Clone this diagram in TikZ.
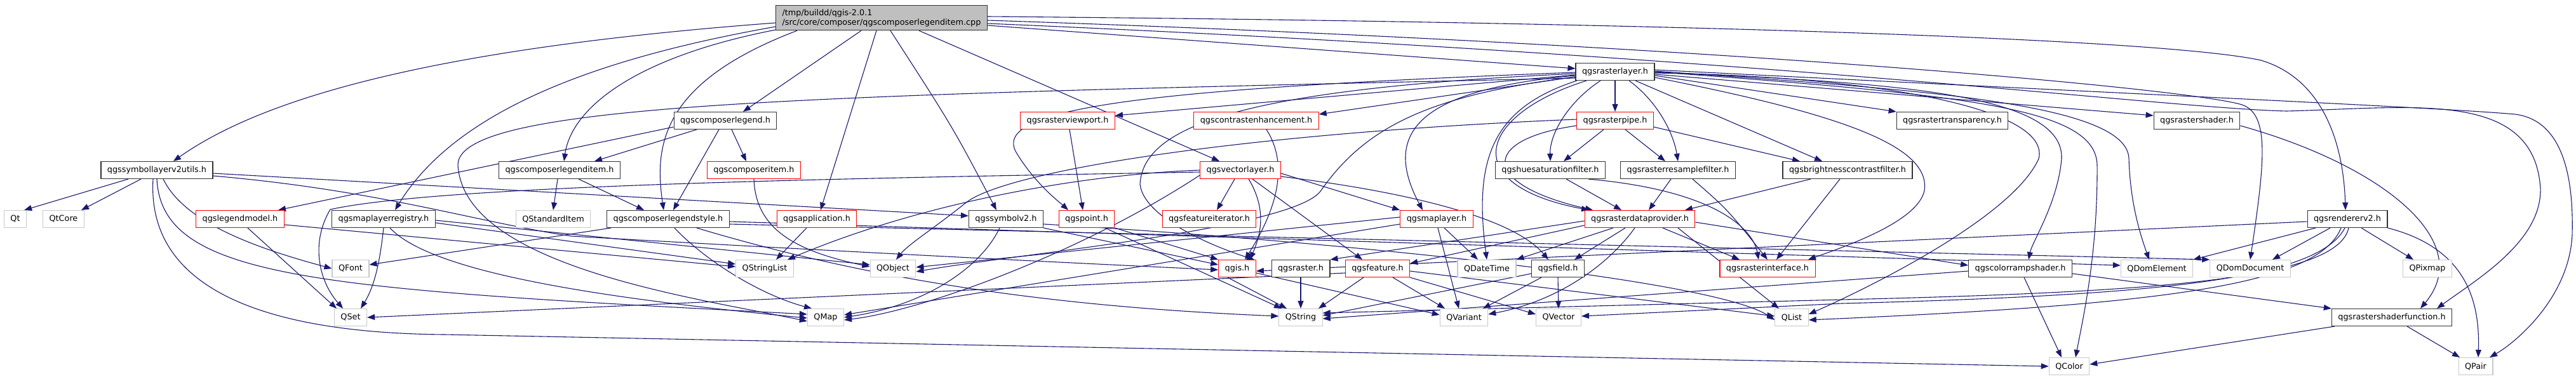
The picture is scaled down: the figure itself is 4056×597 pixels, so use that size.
\documentclass[tikz,border=0pt]{standalone}
\usepackage{fontspec}
\setmainfont{DejaVu Sans}
\usetikzlibrary{arrows.meta,backgrounds}
\definecolor{depblue}{HTML}{191970}
\definecolor{rootgray}{HTML}{BFBFBF}
\definecolor{extgray}{HTML}{C8C8C8}
\begin{document}
\begin{tikzpicture}[x=1pt,y=-1pt,
hdr/.style={draw=black!80,fill=white,line width=1.1pt,font=\fontsize{12.8}{15}\selectfont,inner xsep=10pt,inner ysep=0pt,minimum height=27pt},
trunc/.style={hdr,draw=red},
ext/.style={hdr,draw=extgray},
rootbox/.style={hdr,fill=rootgray,align=left,inner ysep=6pt},
dep/.style={-{Triangle[length=12pt,width=9pt]},line width=1.1pt,draw=depblue}]
\useasboundingbox (0,0) rectangle (4056,597);
\node[rootbox](root) at (1388,28){/tmp/buildd/qgis-2.0.1\\/src/core/composer/qgscomposerlegenditem.cpp};
\node[hdr](rl) at (2543,113){qgsrasterlayer.h};
\node[hdr](cl) at (1142,190){qgscomposerlegend.h};
\node[trunc](rvp) at (1681,190){qgsrasterviewport.h};
\node[trunc](ce) at (1978,190){qgscontrastenhancement.h};
\node[trunc](rp) at (2543,190){qgsrasterpipe.h};
\node[hdr](rt) at (3074,190){qgsrastertransparency.h};
\node[hdr](rs) at (3459,190){qgsrastershader.h};
\node[hdr](sl2u) at (247,268){qgssymbollayerv2utils.h};
\node[hdr](cli) at (881,268){qgscomposerlegenditem.h};
\node[trunc](ci) at (1187,268){qgscomposeritem.h};
\node[trunc](vl) at (1953,268){qgsvectorlayer.h};
\node[hdr](hsf) at (2441,268){qgshuesaturationfilter.h};
\node[hdr](rrf) at (2642,268){qgsrasterresamplefilter.h};
\node[hdr](bcf) at (2909,268){qgsbrightnesscontrastfilter.h};
\node[ext](qt) at (24,345){Qt};
\node[ext](qtcore) at (100,345){QtCore};
\node[trunc](lm) at (378,345){qgslegendmodel.h};
\node[hdr](mlr) at (604,345){qgsmaplayerregistry.h};
\node[ext](si) at (871,345){QStandardItem};
\node[hdr](cls) at (1052,345){qgscomposerlegendstyle.h};
\node[trunc](app) at (1286,345){qgsapplication.h};
\node[hdr](sv2) at (1584,345){qgssymbolv2.h};
\node[trunc](pt) at (1711,345){qgspoint.h};
\node[trunc](fi) at (1904,345){qgsfeatureiterator.h};
\node[trunc](ml) at (2262,345){qgsmaplayer.h};
\node[trunc](rdp) at (2582,345){qgsrasterdataprovider.h};
\node[hdr](rv2) at (3696,345){qgsrendererv2.h};
\node[ext](qfont) at (552,423){QFont};
\node[ext](qsl) at (1204,423){QStringList};
\node[ext](qobj) at (1406,423){QObject};
\node[trunc](qgis) at (1948,423){qgis.h};
\node[hdr](rast) at (2048,423){qgsraster.h};
\node[trunc](feat) at (2169,423){qgsfeature.h};
\node[ext](qdt) at (2341,423){QDateTime};
\node[hdr](field) at (2453,423){qgsfield.h};
\node[trunc](ri) at (2783,423){qgsrasterinterface.h};
\node[hdr](crs) at (3181,423){qgscolorrampshader.h};
\node[ext](qde) at (3396,423){QDomElement};
\node[ext](qdd) at (3543,423){QDomDocument};
\node[ext](qpix) at (3822,423){QPixmap};
\node[ext](qset) at (552,500){QSet};
\node[ext](qmap) at (1300,500){QMap};
\node[ext](qstr) at (2048,500){QString};
\node[ext](qvar) at (2305,500){QVariant};
\node[ext](qvec) at (2454,500){QVector};
\node[ext](qlist) at (2821,500){QList};
\node[hdr](rsf) at (3766,500){qgsrastershaderfunction.h};
\node[ext](qcol) at (3258,577){QColor};
\node[ext](qpair) at (3898,577){QPair};
\begin{scope}[on background layer]
\draw[dep]([yshift=-8pt]root.west) .. controls (700,75) and (420,150) .. ([xshift=26pt]sl2u.north);
\draw[dep]([yshift=-19pt]root.west) .. controls (1000,90) and (900,170) .. ([xshift=7pt]cli.north);
\draw[dep]([yshift=-14pt]root.west) .. controls (950,90) and (720,170) .. ([xshift=18pt]mlr.north);
\draw[dep]([xshift=-133pt]root.south) .. controls (1040,130) and (1030,230) .. ([xshift=-7pt]cls.north);
\draw[dep]([xshift=-32pt]root.south)--([xshift=28pt]cl.north);
\draw[dep]([xshift=-8pt]root.south)--([xshift=6pt]app.north);
\draw[dep]([xshift=14pt]root.south) .. controls (1500,200) .. ([xshift=-15pt]sv2.north);
\draw[dep]([xshift=59pt]root.south)--([xshift=-33pt]vl.north);
\draw[dep]([yshift=-12pt]root.east)--([yshift=5pt]rl.west);
\draw[dep]([yshift=2pt]root.east) .. controls (2600,35) and (3400,60) .. (3560,95) .. controls (3660,125) and (3690,230) .. ([xshift=-3pt]rv2.north);
\draw[dep]([yshift=-4pt]root.east) .. controls (2700,70) and (3450,140) .. (3530,165) .. controls (3575,180) and (3565,260) .. (qdd.north);
\draw[dep]([yshift=-9pt]root.east) .. controls (2800,90) and (3400,170) .. (3600,175) .. controls (3800,170) and (3990,140) .. (4000,297) .. controls (4002,380) and (3900,440) .. ([xshift=71pt]rsf.north);
\draw[dep]([xshift=-45pt]sl2u.south)--([xshift=-4pt]qt.north east);
\draw[dep]([xshift=-25pt]sl2u.south)--([xshift=28pt]qtcore.north);
\draw[dep]([xshift=10pt]sl2u.south) .. controls (290,350) and (400,390) .. (qfont.west);
\draw[dep](sl2u.south) .. controls (255,440) and (500,455) .. ([yshift=5pt]qmap.west);
\draw[dep]([xshift=-6pt]sl2u.south) .. controls (230,470) and (450,525) .. (700,527)--(qcol.west);
\draw[dep]([yshift=-5pt]sl2u.east)--([yshift=5pt]sv2.west);
\draw[dep]([yshift=-9pt]sl2u.east) .. controls (600,300) and (750,350) .. (900,372) .. controls (1300,395) and (1700,415) .. ([yshift=-2pt]qgis.west);
\draw[dep]([yshift=-10pt]cl.west)--([xshift=60pt]lm.north);
\draw[dep]([xshift=-45pt]cl.south)--([xshift=55pt]cli.north);
\draw[dep]([xshift=-10pt]cl.south)--([xshift=8pt]cls.north);
\draw[dep]([xshift=10pt]cl.south)--([xshift=-12pt]ci.north);
\draw[dep]([xshift=-3pt]cli.south)--(si.north);
\draw[dep]([xshift=30pt]cli.south)--([xshift=-38pt]cls.north);
\draw[dep](ci.south) .. controls (1190,360) and (1250,395) .. ([yshift=3pt]qobj.west);
\draw[dep]([xshift=12pt]lm.south)--([xshift=-22pt]qset.north);
\draw[dep]([yshift=-9pt]lm.east)--([yshift=3pt]qsl.west);
\draw[dep](mlr.south) .. controls (598,413) and (590,450) .. ([xshift=16pt]qset.north);
\draw[dep]([xshift=10pt]mlr.south) .. controls (680,430) and (950,470) .. ([yshift=-1pt]qmap.west);
\draw[dep]([yshift=-6pt]mlr.east)--([yshift=7pt]qsl.west);
\draw[dep]([yshift=-2pt]mlr.east)--([yshift=6pt]qobj.west);
\draw[dep]([xshift=-90pt]cls.south)--([yshift=6pt]qfont.east);
\draw[dep]([xshift=10pt]cls.south) .. controls (1110,410) and (1196,464) .. ([xshift=-22pt]qmap.north);
\draw[dep]([xshift=45pt]cls.south) .. controls (1400,450) and (1700,485) .. ([yshift=2pt]qstr.west);
\draw[dep]([yshift=-4pt]cls.east)--([yshift=5pt]qde.west);
\draw[dep]([yshift=-8pt]cls.east)--(qdd.north west);
\draw[dep]([xshift=-16pt]app.south)--([xshift=18pt]qsl.north);
\draw[dep](sv2.south east)--([yshift=6pt]qgis.west);
\draw[dep]([xshift=-10pt]sv2.south) .. controls (1545,420) and (1460,480) .. (qmap.east);
\draw[dep]([yshift=-8pt]sv2.east) .. controls (2100,380) and (2700,440) .. ([yshift=-4pt]qlist.west);
\draw[dep](pt.south east)--(qgis.north west);
\draw[dep]([xshift=29pt]pt.south)--([xshift=-30pt]qstr.north);
\draw[dep]([xshift=-9pt]vl.south)--([xshift=12pt]fi.north);
\draw[dep]([xshift=13pt]vl.south) .. controls (1995,330) and (1985,370) .. ([xshift=20pt]qgis.north);
\draw[dep]([xshift=19pt]vl.south)--([xshift=-24pt]feat.north);
\draw[dep]([yshift=-5pt]vl.east)--(ml.north west);
\draw[dep]([yshift=-10pt]vl.east) .. controls (2200,300) and (2380,340) .. ([xshift=-15pt]field.north);
\draw[dep](vl.west) .. controls (1700,275) and (1450,320) .. ([xshift=36pt]qsl.north);
\draw[dep]([yshift=-3pt]vl.west) .. controls (1400,280) and (700,290) .. (520,330) .. controls (490,380) and (500,440) .. ([xshift=-12pt]qset.north);
\draw[dep]([yshift=-8pt]vl.west) .. controls (1700,400) and (1450,490) .. ([yshift=-4pt]qmap.east);
\draw[dep]([yshift=-5pt]rl.west)--([yshift=8pt]rvp.east);
\draw[dep]([yshift=-8pt]rl.west)--([yshift=10pt]ce.east);
\draw[dep](rl.south)--(rp.north);
\draw[dep]([yshift=-6pt]rl.east)--(rt.north west);
\draw[dep]([yshift=-4pt]rl.east)--([yshift=8pt]rs.west);
\draw[dep]([xshift=-23pt]rl.south) .. controls (2470,160) and (2440,210) .. (hsf.north);
\draw[dep]([xshift=22pt]rl.south) .. controls (2610,160) and (2635,210) .. (rrf.north);
\draw[dep]([xshift=32pt]rl.south)--([xshift=-40pt]bcf.north);
\draw[dep]([yshift=-6pt]rl.west) .. controls (2250,140) and (2170,200) .. ([xshift=-22pt]ml.north);
\draw[dep]([xshift=-60pt]rl.south) .. controls (2350,170) and (2320,250) .. (qdt.north);
\draw[dep]([xshift=-45pt]rl.south) .. controls (2330,180) and (2290,290) .. ([xshift=-80pt]rdp.north);
\draw[dep]([yshift=-3pt]rl.west) .. controls (1950,140) and (1800,200) .. (1795,290) .. controls (1800,340) and (1900,385) .. ([xshift=27pt]qgis.north);
\draw[dep]([yshift=-1pt]rl.west) .. controls (1800,140) and (1560,170) .. (1600,240) .. controls (1630,290) and (1670,320) .. ([xshift=-29pt]pt.north);
\draw[dep]([yshift=-10pt]rl.west) .. controls (1300,150) and (720,160) .. (721,260) .. controls (730,420) and (1100,470) .. ([yshift=-6pt]qmap.west);
\draw[dep]([yshift=-8pt]rl.west) .. controls (2250,150) and (2150,200) .. (2080,300) .. controls (2040,360) and (1600,400) .. ([yshift=-5pt]qobj.east);
\draw[dep]([yshift=-2pt]rl.east) .. controls (2950,120) and (3230,170) .. (3210,250) .. controls (3170,340) and (2950,450) .. ([yshift=5pt]qlist.east);
\draw[dep]([yshift=-1pt]rl.east) .. controls (3000,130) and (3250,150) .. (3246,250) .. controls (3240,320) and (3200,380) .. ([xshift=13pt]crs.north);
\draw[dep](rl.east) .. controls (3100,150) and (3300,170) .. (3302,260) .. controls (3303,400) and (3280,500) .. ([xshift=10pt]qcol.north);
\draw[dep]([yshift=1pt]rl.east) .. controls (3000,140) and (3350,160) .. (3352,250) .. controls (3354,320) and (3370,370) .. ([xshift=-12pt]qde.north);
\draw[dep]([yshift=-9pt]rl.east) .. controls (2900,180) and (3040,230) .. (3030,300) .. controls (3020,350) and (2900,390) .. ([xshift=64pt]ri.north);
\draw[dep]([yshift=3pt]rl.east) .. controls (3400,150) and (3850,170) .. (3960,180) .. controls (4040,190) and (4052,290) .. (4050,370) .. controls (4045,470) and (3960,540) .. ([xshift=22pt]qpair.north);
\draw[dep]([xshift=3pt]rvp.south)--([xshift=-6pt]pt.north);
\draw[dep]([xshift=16pt]ce.south) .. controls (2030,260) and (2010,330) .. ([xshift=12pt]qgis.north);
\draw[dep]([xshift=-18pt]rp.south)--([xshift=21pt]hsf.north);
\draw[dep]([xshift=16pt]rp.south)--([xshift=-20pt]rrf.north);
\draw[dep]([yshift=-10pt]rp.east)--([xshift=-75pt]bcf.north);
\draw[dep]([yshift=-8pt]rp.west) .. controls (2330,220) and (2330,290) .. ([xshift=-74pt]rdp.north);
\draw[dep]([yshift=2pt]rp.west) .. controls (1950,210) and (1580,270) .. (1520,320) .. controls (1470,360) and (1430,385) .. ([xshift=5pt]qobj.north);
\draw[dep]([xshift=25pt]hsf.south)--([xshift=-29pt]rdp.north);
\draw[dep]([xshift=60pt]hsf.south) .. controls (2700,300) and (2760,360) .. ([xshift=-14pt]ri.north);
\draw[dep]([xshift=-11pt]rrf.south)--([xshift=14pt]rdp.north);
\draw[dep]([xshift=23pt]rrf.south) .. controls (2720,330) .. (ri.north);
\draw[dep]([xshift=-58pt]bcf.south)--([xshift=71pt]rdp.north);
\draw[dep]([xshift=-12pt]bcf.south)--([xshift=14pt]ri.north);
\draw[dep]([yshift=3pt]ml.west)--([yshift=2pt]qobj.east);
\draw[dep]([yshift=-8pt]ml.west)--([yshift=4pt]qmap.east);
\draw[dep]([xshift=2pt]ml.south)--([xshift=-8pt]qvar.north);
\draw[dep]([xshift=12pt]ml.south)--([xshift=-14pt]qdt.north);
\draw[dep]([xshift=36pt]rdp.south)--([xshift=-44pt]ri.north);
\draw[dep]([yshift=-10pt]rdp.west)--([yshift=8pt]feat.east);
\draw[dep]([yshift=-3pt]rdp.west)--(rast.north east);
\draw[dep]([xshift=-42pt]rdp.south)--(qdt.north east);
\draw[dep]([xshift=-23pt]rdp.south)--([xshift=26pt]field.north);
\draw[dep]([xshift=-8pt]rdp.south) .. controls (2530,420) and (2450,475) .. ([yshift=5pt]qvar.east);
\draw[dep]([yshift=-5pt]rdp.east)--([yshift=5pt]crs.west);
\draw[dep]([xshift=60pt]rdp.south)--([xshift=-20pt]qlist.north);
\draw[dep](rast.south)--(qstr.north);
\draw[dep]([xshift=-22pt]feat.south)--([xshift=28pt]qstr.north);
\draw[dep]([xshift=24pt]feat.south)--([xshift=-30pt]qvar.north);
\draw[dep](feat.south east)--([yshift=5pt]qvec.west);
\draw[dep]([yshift=-4pt]feat.east)--([yshift=2pt]qlist.west);
\draw[dep]([yshift=-7pt]feat.west)--(qset.east);
\draw[dep]([yshift=-8pt]field.west)--([yshift=3pt]qstr.east);
\draw[dep]([xshift=-26pt]field.south)--([xshift=30pt]qvar.north);
\draw[dep](field.south)--(qvec.north);
\draw[dep]([xshift=-15pt]qgis.south)--([xshift=-22pt]qstr.north);
\draw[dep]([yshift=-7pt]qgis.east)--([yshift=4pt]qvar.west);
\draw[dep]([yshift=-8pt]crs.east)--(rsf.north west);
\draw[dep]([xshift=6pt]crs.south)--([xshift=-12pt]qcol.north);
\draw[dep]([yshift=-4pt]crs.west)--([yshift=-2pt]qstr.east);
\draw[dep]([yshift=-8pt]rs.east) .. controls (3750,260) and (3900,380) .. ([xshift=45pt]rsf.north);
\draw[dep]([xshift=24pt]rsf.south)--([xshift=-25pt]qpair.north);
\draw[dep]([xshift=-90pt]rsf.south)--([yshift=3pt]qcol.east);
\draw[dep]([xshift=-50pt]rv2.south)--(qde.north east);
\draw[dep]([xshift=-27pt]rv2.south)--([xshift=35pt]qdd.north);
\draw[dep]([xshift=22pt]rv2.south)--([xshift=-22pt]qpix.north);
\draw[dep](rv2.south east) .. controls (3880,390) and (3905,470) .. ([xshift=4pt]qpair.north);
\draw[dep]([xshift=-10pt]rv2.south) .. controls (3650,450) and (3400,480) .. ([yshift=-4pt]qlist.east);
\draw[dep]([xshift=-4pt]rv2.south) .. controls (3650,440) and (3400,465) .. (2900,478)--([yshift=2pt]qvec.east);
\draw[dep]([xshift=2pt]rv2.south) .. controls (3680,440) and (3400,460) .. (2900,472)--([yshift=7pt]qstr.east);
\draw[dep]([yshift=-4pt]rv2.west)--([yshift=-4pt]qgis.east);
\end{scope}
\end{tikzpicture}
\end{document}
